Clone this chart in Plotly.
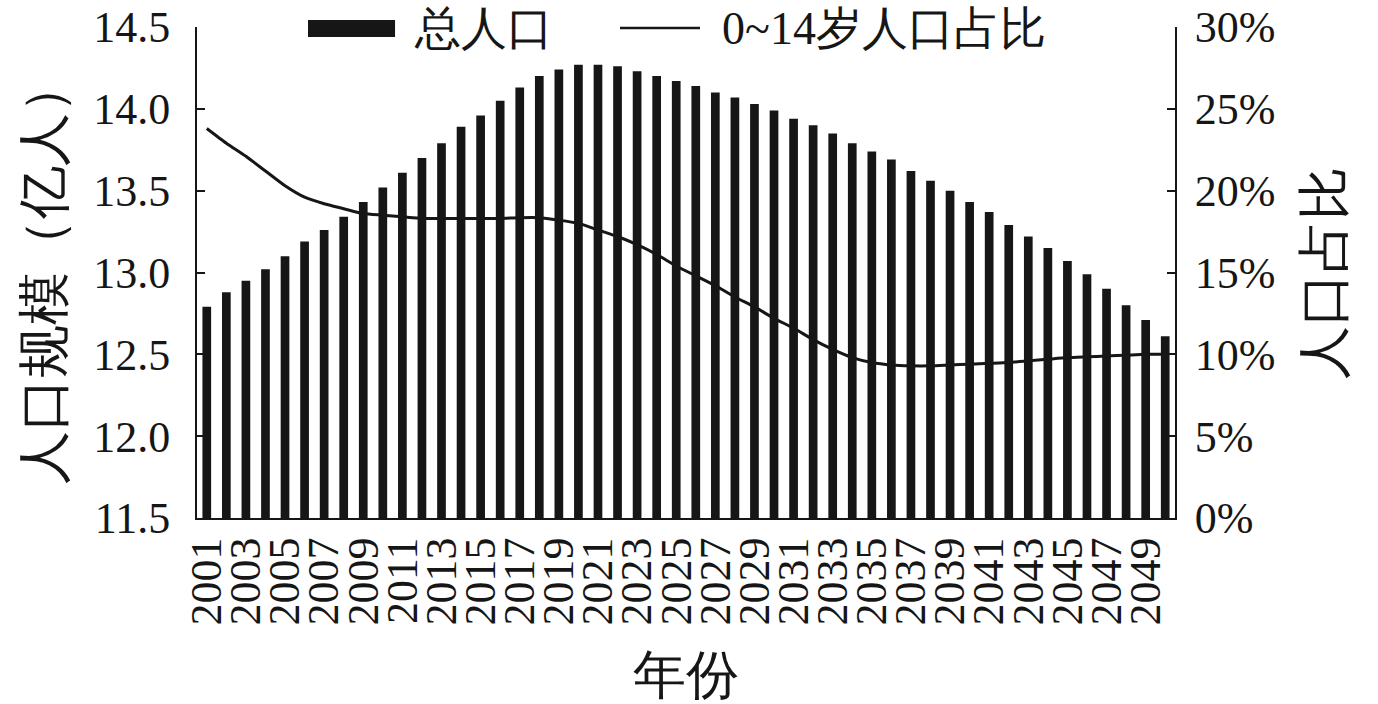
import plotly.graph_objects as go

years = list(range(2001, 2051))
population = [12.79, 12.88, 12.95, 13.02, 13.10, 13.19, 13.26, 13.34, 13.43, 13.52,
              13.61, 13.70, 13.79, 13.89, 13.96, 14.05, 14.13, 14.20, 14.24, 14.27,
              14.27, 14.26, 14.23, 14.20, 14.17, 14.14, 14.10, 14.07, 14.03, 13.99,
              13.94, 13.90, 13.85, 13.79, 13.74, 13.69, 13.62, 13.56, 13.50, 13.43,
              13.37, 13.29, 13.22, 13.15, 13.07, 12.99, 12.90, 12.80, 12.71, 12.61]
child_share = [23.8, 22.9, 22.1, 21.2, 20.3, 19.6, 19.2, 18.9, 18.6, 18.5,
               18.4, 18.3, 18.3, 18.3, 18.3, 18.3, 18.35, 18.35, 18.2, 18.0,
               17.6, 17.2, 16.7, 16.1, 15.4, 14.8, 14.2, 13.5, 12.9, 12.2,
               11.6, 10.9, 10.3, 9.8, 9.5, 9.35, 9.3, 9.3, 9.35, 9.4,
               9.45, 9.5, 9.6, 9.7, 9.8, 9.85, 9.9, 9.95, 10.0, 10.0]
x_ticks = list(range(2001, 2050, 2))
y_ticks = [11.5, 12.0, 12.5, 13.0, 13.5, 14.0, 14.5]
y2_ticks = [0, 5, 10, 15, 20, 25, 30]
series_names = ["总人口", "0~14岁人口占比"]

ink = "#161616"
font = "Liberation Serif"

fig = go.Figure()
fig.add_trace(go.Bar(x=years, y=population, name=series_names[0],
                     marker=dict(color=ink, line=dict(width=0))))
fig.add_trace(go.Scatter(x=years, y=child_share, name=series_names[1], yaxis="y2", mode="lines",
                         line=dict(color=ink, width=3, shape="spline", smoothing=0.6)))

# legend drawn as decoration above the plot area
fig.add_shape(type="rect", xref="paper", yref="paper", x0=0.1135, x1=0.2025, y0=0.9796, y1=1.0143,
              fillcolor=ink, line=dict(width=0), layer="above")
fig.add_shape(type="line", xref="paper", yref="paper", x0=0.4325, x1=0.5143, y0=0.998, y1=0.998,
              line=dict(color=ink, width=2.5), layer="above")
fig.add_annotation(xref="paper", yref="paper", x=0.2200, y=0.996, xanchor="left", yanchor="middle",
                   text=series_names[0], showarrow=False, font=dict(size=46, color=ink))
fig.add_annotation(xref="paper", yref="paper", x=0.5352, y=0.996, xanchor="left", yanchor="middle",
                   text=series_names[1], showarrow=False, font=dict(size=46, color=ink))

fig.update_layout(
    width=1378, height=704,
    margin=dict(l=197, r=203, t=27, b=186, autoexpand=False),
    paper_bgcolor="white", plot_bgcolor="white",
    font=dict(family=font, size=44, color=ink),
    bargap=0.555,
    showlegend=False,
    xaxis=dict(range=[2000.5, 2050.5], tickvals=x_ticks, ticktext=[str(v) for v in x_ticks],
               tickangle=-90, showline=True, linecolor=ink, linewidth=2, ticks="",
               showgrid=False, zeroline=False, ticklabelstandoff=0, automargin=False,
               title=dict(text="年份", standoff=36)),
    yaxis=dict(range=[11.5, 14.5], tickvals=y_ticks, tickformat=".1f",
               showline=True, linecolor=ink, linewidth=2, ticks="inside", ticklen=8,
               tickwidth=2, tickcolor=ink, showgrid=False, zeroline=False,
               ticklabelstandoff=16, automargin=False, ticklabeloverflow="allow",
               title=dict(text="人口规模（亿人）", standoff=14)),
    yaxis2=dict(range=[0, 30], tickvals=y2_ticks, ticktext=[f"{v}%" for v in y2_ticks],
                overlaying="y", side="right", showline=True, linecolor=ink, linewidth=2,
                ticks="inside", ticklen=8, tickwidth=2, tickcolor=ink, showgrid=False,
                zeroline=False, ticklabelstandoff=9, automargin=False, ticklabeloverflow="allow",
                title=dict(text="人口占比", standoff=30)),
)

fig.write_html("out.html", config={"displayModeBar": False},
               post_script="document.body.style.margin='0';")
